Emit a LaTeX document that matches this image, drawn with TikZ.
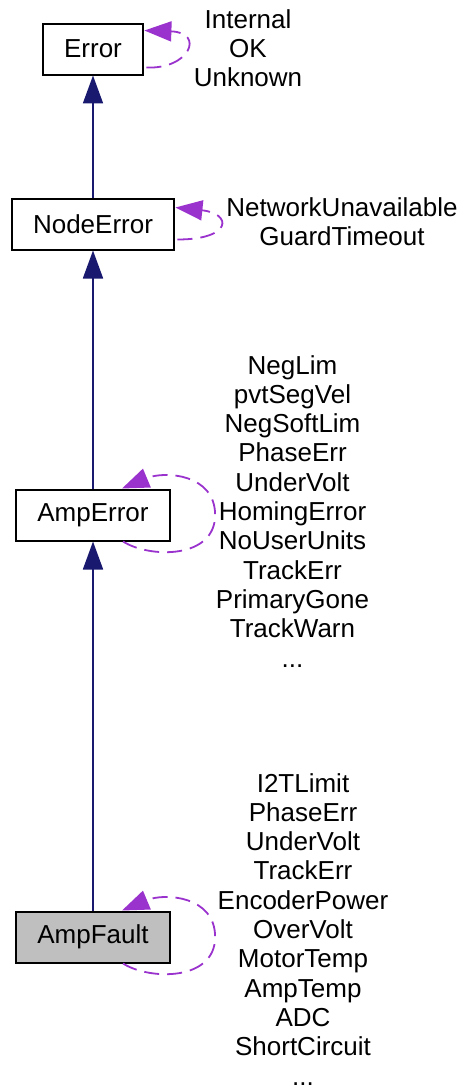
\documentclass[tikz,border=0pt]{standalone}
\usepackage{fontspec}
\newfontfamily\dgfont{Liberation Sans}
\usetikzlibrary{matrix,arrows.meta}
\definecolor{inheritblue}{HTML}{191970}
\definecolor{memberpurple}{HTML}{9A32CD}
\definecolor{faultgray}{HTML}{BFBFBF}

\begin{document}
\begin{tikzpicture}[x=1pt, y=-1pt,
    dgtext/.style={font=\dgfont\fontsize{26}{29.3}\selectfont},
    classbox/.style={dgtext, draw, line width=2pt, minimum height=51pt, inner xsep=21.5pt, inner ysep=0pt},
    varlist/.style={dgtext, align=center, inner sep=0pt, anchor=north},
    inherit/.style={draw=inheritblue, line width=1.8pt, -{Triangle[length=28pt, width=20pt]}, inheritblue},
    member/.style={draw=memberpurple, line width=1.8pt, dash pattern=on 15pt off 8pt,
                   -{Triangle[length=27pt, width=20pt]}, memberpurple}
   ]
\useasboundingbox (0,0) rectangle (465,1089);

\matrix[matrix of nodes, row sep=0pt, inner sep=0pt,
        nodes={classbox}, matrix anchor=mat-1-1.center
       ] (mat) at (93,49)
{
    Error \\[122pt]
    NodeError \\[238pt]
    AmpError \\[369pt]
    |[fill=faultgray]| AmpFault \\
};

\node[varlist] (errorvars) at (248,9) {Internal\\OK\\Unknown};
\node[varlist] (nodeerrorvars) at (342,197) {NetworkUnavailable\\GuardTimeout};
\node[varlist] (amperrorvars) at (292.5,355)
    {NegLim\\pvtSegVel\\NegSoftLim\\PhaseErr\\UnderVolt\\HomingError\\NoUserUnits\\TrackErr\\PrimaryGone\\TrackWarn\\...};
\node[varlist] (ampfaultvars) at (303,773)
    {I2TLimit\\PhaseErr\\UnderVolt\\TrackErr\\EncoderPower\\OverVolt\\MotorTemp\\AmpTemp\\ADC\\ShortCircuit\\...};

\foreach \upper/\lower in {1/2, 2/3, 3/4}
{
    \draw[inherit] (mat-\lower-1) -- (mat-\upper-1);
}

% self references
\draw[member] ([xshift=2pt, yshift=8pt]mat-1-1.south east)
    .. controls +(43,2) and +(61,2) .. ([yshift=-8pt]mat-1-1.north east);
\draw[member] ([xshift=2pt, yshift=11pt]mat-2-1.south east)
    .. controls +(55,0) and +(57,6) .. ([yshift=-10pt]mat-2-1.north east);
\foreach \row in {3, 4}
{
    \draw[member] ([xshift=30pt]mat-\row-1.south)
        .. controls +(27,17) and +(0,44) .. ([xshift=44pt]mat-\row-1.east)
        .. controls +(0,-41) and +(43,-18) .. ([xshift=29pt]mat-\row-1.north);
}

\end{tikzpicture}
\end{document}
